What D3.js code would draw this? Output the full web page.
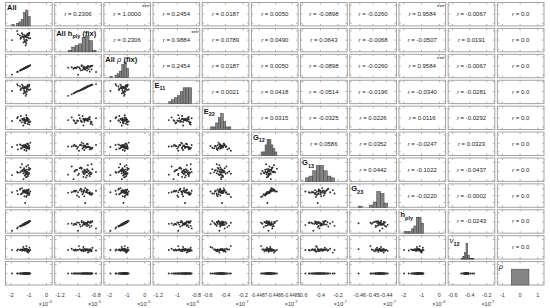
<!DOCTYPE html>
<html><head><meta charset="utf-8">
<script src="https://cdn.jsdelivr.net/npm/d3@7"></script>
<style>body{margin:0;background:#fff}svg{display:block;font-family:"Liberation Sans",Arial,sans-serif}</style>
</head><body><svg id="c" width="550" height="308"></svg>
<script>
// ---- data (display units: values × exponent shown under each column) ----
const allV  = [-1.15,-1.27,-1.02,-1.20,-1.12,-1.50,-1.14,-0.98,-1.33,-1.95,-1.10,-0.97,-1.30,-1.25,-1.09,-1.47,-1.21,-1.24,-1.05,-1.45,-1.04,-1.18,-1.38,-1.07,-0.92,-1.23,-1.66,-1.11,-1.31,-1.34,-1.17,-1.00,-1.62,-1.19,-1.00,-1.13,-1.39,-1.06,-1.25,-1.14];
const allHfix = [-0.91,-0.98,-0.86,-1.03,-0.94,-0.90,-1.07,-0.85,-0.93,-1.00,-0.90,-0.84,-1.05,-0.93,-0.88,-0.97,-0.92,-1.02,-0.87,-0.95,-0.89,-1.11,-0.92,-0.86,-0.96,-0.90,-0.80,-1.01,-0.94,-0.88,-0.91,-0.96,-0.87,-1.04,-0.89,-0.93,-0.85,-0.94,-0.90,-0.99];
const allRfix = [-1.15,-1.27,-1.02,-1.20,-1.12,-1.50,-1.14,-0.98,-1.33,-1.95,-1.10,-0.97,-1.30,-1.25,-1.09,-1.47,-1.21,-1.24,-1.05,-1.45,-1.04,-1.18,-1.38,-1.07,-0.92,-1.23,-1.66,-1.11,-1.31,-1.34,-1.17,-1.00,-1.62,-1.19,-1.00,-1.13,-1.39,-1.06,-1.25,-1.14];
const e11 = [-0.92,-0.98,-0.88,-1.02,-0.95,-0.90,-1.06,-0.87,-0.93,-0.99,-0.91,-0.86,-1.04,-0.94,-0.89,-0.97,-0.92,-1.01,-0.88,-0.95,-0.90,-1.09,-0.93,-0.87,-0.96,-0.91,-0.85,-1.00,-0.94,-0.89,-0.92,-0.97,-0.88,-1.03,-0.90,-0.93,-0.86,-0.95,-0.91,-0.99];
const e22 = [-0.45,-0.41,-0.48,-0.52,-0.43,-0.46,-0.39,-0.50,-0.44,-0.47,-0.42,-0.55,-0.45,-0.49,-0.40,-0.46,-0.44,-0.51,-0.43,-0.36,-0.47,-0.45,-0.42,-0.53,-0.48,-0.44,-0.41,-0.46,-0.57,-0.43,-0.45,-0.49,-0.38,-0.47,-0.44,-0.46,-0.50,-0.42,-0.45,-0.34];
const g12 = [-0.448640,-0.448622,-0.448655,-0.448631,-0.448648,-0.448612,-0.448637,-0.448668,-0.448626,-0.448643,-0.448605,-0.448652,-0.448629,-0.448680,-0.448641,-0.448618,-0.448650,-0.448634,-0.448645,-0.448661,-0.448609,-0.448638,-0.448627,-0.448657,-0.448592,-0.448644,-0.448620,-0.448663,-0.448632,-0.448647,-0.448653,-0.448624,-0.448672,-0.448615,-0.448639,-0.448630,-0.448658,-0.448603,-0.448642,-0.448688];
const g13 = [-0.40,-0.33,-0.46,-0.38,-0.52,-0.42,-0.29,-0.44,-0.36,-0.48,-0.41,-0.35,-0.57,-0.39,-0.45,-0.31,-0.43,-0.37,-0.50,-0.40,-0.26,-0.47,-0.38,-0.42,-0.34,-0.49,-0.41,-0.36,-0.44,-0.39,-0.53,-0.32,-0.43,-0.40,-0.37,-0.46,-0.24,-0.42,-0.35,-0.45];
const g23 = [-0.445,-0.442,-0.448,-0.444,-0.446,-0.441,-0.445,-0.449,-0.443,-0.445,-0.442,-0.447,-0.444,-0.451,-0.446,-0.440,-0.461,-0.443,-0.445,-0.448,-0.442,-0.446,-0.439,-0.447,-0.444,-0.445,-0.443,-0.450,-0.444,-0.446,-0.445,-0.441,-0.448,-0.443,-0.446,-0.442,-0.447,-0.444,-0.445,-0.452];
const hply = [-1.12,-1.31,-0.97,-1.24,-1.08,-1.46,-1.18,-1.02,-1.27,-1.98,-1.14,-0.93,-1.36,-1.21,-1.05,-1.52,-1.16,-1.29,-1.09,-1.41,-1.00,-1.22,-1.33,-1.11,-0.89,-1.19,-1.72,-1.07,-1.26,-1.38,-1.13,-1.04,-1.58,-1.23,-0.96,-1.17,-1.44,-1.01,-1.28,-1.10];
const nu12 = [-0.44,-0.42,-0.46,-0.43,-0.45,-0.44,-0.41,-0.47,-0.43,-0.44,-0.45,-0.39,-0.44,-0.43,-0.48,-0.44,-0.42,-0.45,-0.44,-0.43,-0.50,-0.44,-0.46,-0.43,-0.44,-0.42,-0.45,-0.44,-0.37,-0.43,-0.44,-0.46,-0.43,-0.45,-0.44,-0.42,-0.44,-0.47,-0.43,-0.35];
const rho = [0,0,0,0,0,0,0,0,0,0,0,0,0,0,0,0,0,0,0,0,0,0,0,0,0,0,0,0,0,0,0,0,0,0,0,0,0,0,0,0];

// axis tick values and labels, exponents
const tickVals = [[-2,-1,0],[-1.2,-1,-0.8],[-2,-1,0],[-1.2,-1,-0.8],[-0.6,-0.4,-0.2],[-0.4487,-0.4486,-0.4485],[-0.6,-0.4,-0.2],[-0.46,-0.45,-0.44],[-2,-1,0],[-0.6,-0.4,-0.2],[-1,0,1]];
const tickText = [["-2","-1","0"],["-1.2","-1","-0.8"],["-2","-1","0"],["-1.2","-1","-0.8"],["-0.6","-0.4","-0.2"],["-0.4487","-0.4486","-0.4485"],["-0.6","-0.4","-0.2"],["-0.46","-0.45","-0.44"],["-2","-1","0"],["-0.6","-0.4","-0.2"],["-1","0","1"]];
const exponents = ["-4","-5","-4","-6","-7","-7","-7","-7","-4","-7",null];

// correlation texts (upper triangle, row by row)
const rRows = [
 ["0.2306","1.0000","0.2454","0.0187","0.0050","-0.0898","-0.0260","0.9584","-0.0067","0.0"],
 ["0.2306","0.9884","0.0789","0.0490","0.0643","-0.0068","-0.0507","0.0191","0.0"],
 ["0.2454","0.0187","0.0050","-0.0898","-0.0260","0.9584","-0.0067","0.0"],
 ["0.0021","0.0418","-0.0514","-0.0196","-0.0340","-0.0281","0.0"],
 ["0.0315","-0.0325","0.0226","0.0116","-0.0292","0.0"],
 ["0.0586","0.0352","-0.0247","0.0323","0.0"],
 ["0.0442","-0.1022","-0.0437","0.0"],
 ["-0.0220","-0.0002","0.0"],
 ["-0.0243","0.0"],
 ["0.0"]
];
const starPairs = [[0,2],[0,8],[1,3],[2,8]];

const diagLabels = [
 [["All","n"]],
 [["All h","n"],["ply","s"],[" (fix)","n"]],
 [["All ","n"],["ρ","i"],[" (fix)","n"]],
 [["E","n"],["11","s"]],
 [["E","n"],["22","s"]],
 [["G","n"],["12","s"]],
 [["G","n"],["13","s"]],
 [["G","n"],["23","s"]],
 [["h","n"],["ply","s"]],
 [["ν","i"],["12","s"]],
 [["ρ","i"]]
];

// ---- layout ----
const vars = [allV, allHfix, allRfix, e11, e22, g12, g13, g23, hply, nu12, rho];
const domains = [[-2.35,0.35],[-1.265,-0.735],[-2.35,0.35],[-1.26,-0.76],[-0.67,-0.13],[-0.44875,-0.44846],[-0.63,-0.09],[-0.468,-0.432],[-2.3,0.38],[-0.66,-0.1],[-1.32,1.38]];
const n = vars.length;
const X0 = 5, X1 = 546, Y0 = 2, Y1 = 287, GAP = 1.5;
const PW = (X1 - X0) / n, PH = (Y1 - Y0) / n;
const svg = d3.select("#c");

function cellX(j){ return X0 + j*PW; }
function cellY(i){ return Y0 + i*PH; }
const cw = PW - GAP, ch = PH - GAP;

const xs = vars.map((v,j) => d3.scaleLinear().domain(domains[j]).range([cellX(j), cellX(j)+cw]));

for (let i = 0; i < n; i++) {
  const ys = d3.scaleLinear().domain(domains[i]).range([cellY(i)+ch, cellY(i)]);
  for (let j = 0; j < n; j++) {
    const g = svg.append("g");
    const x0 = cellX(j), y0 = cellY(i);
    g.append("rect").attr("x", x0+0.5).attr("y", y0+0.5).attr("width", cw-1).attr("height", ch-1)
      .attr("fill", "#fff").attr("stroke", "#9a9a9a").attr("stroke-width", 0.9);
    const tk = g.append("g").attr("stroke", "#9a9a9a").attr("stroke-width", 0.7);
    tickVals[j].forEach(t => {
      const px = xs[j](t);
      tk.append("line").attr("x1", px).attr("x2", px).attr("y1", y0+ch-0.5).attr("y2", y0+ch-2.5);
      tk.append("line").attr("x1", px).attr("x2", px).attr("y1", y0+0.5).attr("y2", y0+2.5);
    });
    tickVals[i].forEach(t => {
      const py = ys(t);
      if (py > y0+1 && py < y0+ch-1) {
        tk.append("line").attr("y1", py).attr("y2", py).attr("x1", x0+0.5).attr("x2", x0+2.5);
        tk.append("line").attr("y1", py).attr("y2", py).attr("x1", x0+cw-0.5).attr("x2", x0+cw-2.5);
      }
    });

    if (i === j) {
      const v = vars[j];
      const [lo, hi] = d3.extent(v);
      let bins;
      if (lo === hi) {
        bins = [{x0: lo-0.5, x1: lo+0.5, length: v.length}];
      } else {
        const nb = 8;
        bins = d3.bin().domain([lo, hi]).thresholds(d3.range(1, nb).map(k => lo + (hi-lo)*k/nb))(v);
      }
      const maxC = d3.max(bins, b => b.length);
      const hy = d3.scaleLinear().domain([0, maxC]).range([y0+ch-0.5, y0+ch*0.33]);
      g.selectAll("rect.bar").data(bins).join("rect").attr("class","bar")
        .attr("x", b => xs[j](b.x0)).attr("width", b => Math.max(0, xs[j](b.x1)-xs[j](b.x0)))
        .attr("y", b => hy(b.length)).attr("height", b => hy(0)-hy(b.length))
        .attr("fill", "#858585").attr("stroke", "#3a3a3a").attr("stroke-width", 0.5);
      const t = g.append("text").attr("x", x0+2).attr("y", y0+8).attr("font-size", 7.5)
        .attr("font-weight", "bold").attr("fill", "#111");
      let shift = 0;
      diagLabels[j].forEach(([s, st]) => {
        const sp = t.append("tspan").text(s);
        if (st === "s") { sp.attr("font-size", 5.5).attr("dy", 2.5 - shift); shift = 2.5; }
        else { sp.attr("dy", -shift); shift = 0; if (st === "i") sp.attr("font-style", "italic").attr("font-weight", "normal"); }
      });
    } else if (i > j) {
      const xv = vars[j], yv = vars[i];
      g.selectAll("circle").data(xv.map((d,k) => [d, yv[k]])).join("circle")
        .attr("cx", d => xs[j](d[0])).attr("cy", d => ys(d[1])).attr("r", 0.95)
        .attr("fill", "#2e2e2e");
    } else {
      const txt = rRows[i][j-i-1];
      const t = g.append("text").attr("x", x0+cw/2).attr("y", y0+ch/2+2)
        .attr("text-anchor", "middle").attr("font-size", 6).attr("fill", "#222");
      t.append("tspan").attr("font-style", "italic").text("r");
      t.append("tspan").text(" = " + txt);
      if (starPairs.some(p => p[0] === i && p[1] === j)) {
        g.append("text").attr("x", x0+cw-2).attr("y", y0+7).attr("text-anchor", "end")
          .attr("font-size", 6).attr("fill", "#222").text("***");
      }
    }
  }
}

// bottom tick labels & exponents
for (let j = 0; j < n; j++) {
  const fs = j === 5 ? 4.8 : 5.5;
  tickVals[j].forEach((t, k) => {
    svg.append("text").attr("x", xs[j](t)).attr("y", 297).attr("text-anchor", "middle")
      .attr("font-size", fs).attr("fill", "#333").text(tickText[j][k]);
  });
  if (exponents[j]) {
    const t = svg.append("text").attr("x", cellX(j)+cw-1).attr("y", 305.5).attr("text-anchor", "end")
      .attr("font-size", 5.5).attr("fill", "#333");
    t.append("tspan").text("×10");
    t.append("tspan").attr("font-size", 4).attr("dy", -2.5).text(exponents[j]);
  }
}
</script></body></html>
